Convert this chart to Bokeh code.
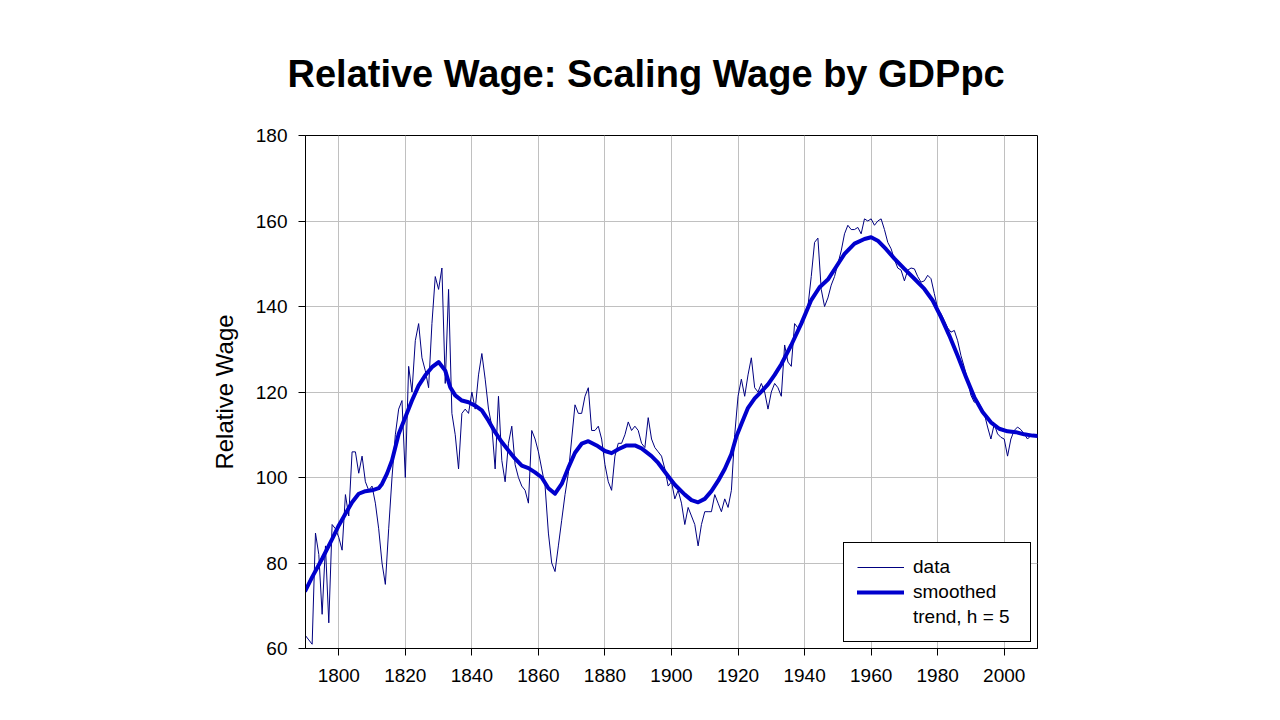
from bokeh.plotting import figure
from bokeh.models import Range1d, SingleIntervalTicker, Legend, LegendItem, Title
from bokeh.embed import file_html
from bokeh.resources import INLINE

# ---- data ----
years = list(range(1790, 2011))
wage = [
    63, 62, 61, 87, 82, 68, 84, 66, 89, 88,            # 1790-1799
    86, 83, 96, 91, 106, 106, 101, 105, 99, 97,       # 1800-1809
    98, 94, 88, 80, 75, 88, 100, 110, 116, 118,       # 1810-1819
    100, 126, 120, 132, 136, 128, 125, 121, 136, 147, # 1820-1829
    144, 149, 122, 144, 115, 110, 102, 115, 116, 115, # 1830-1839
    120, 116, 124, 129, 123, 116, 112, 102, 119, 104, # 1840-1849
    99, 108, 112, 103, 100, 98, 97, 94, 111, 109,     # 1850-1859
    106, 102, 98, 87, 80, 78, 84, 90, 96, 101,        # 1860-1869
    109, 117, 115, 115, 119, 121, 111, 111, 112, 109, # 1870-1879
    103, 99, 97, 105, 108, 108, 110, 113, 111, 112,   # 1880-1889
    111, 108, 107, 114, 109, 107, 106, 105, 102, 98,  # 1890-1899
    99, 95, 97, 94, 89, 93, 91, 89, 84, 89,           # 1900-1909
    92, 92, 92, 96, 94, 92, 95, 93, 97, 110,          # 1910-1919
    119, 123, 119, 124, 128, 121, 120, 122, 120, 116, # 1920-1929
    120, 122, 121, 119, 131, 127, 126, 136, 135, 136, # 1930-1939
    138, 140, 147, 155, 156, 144, 140, 142, 145, 147, # 1940-1949
    150, 153, 157, 159, 158, 158, 158.5, 157, 160.5, 160,  # 1950-1959
    160.5, 159, 160, 160.5, 158, 155, 153.5, 151, 149, 148.5,  # 1960-1969
    146, 148.5, 149, 148.8, 147, 145.7, 146, 147.3, 146.5, 143,  # 1970-1979
    139.5, 138.3, 136.7, 135, 134, 134.4, 132, 128.5, 125.8, 122.7,  # 1980-1989
    119.2, 117.6, 118, 116.5, 115, 111.8, 109, 112.5, 110.2, 109.4,  # 1990-1999
    109, 105, 109, 111, 111.8, 111.2, 110.2, 109, 109.8, 109.8,  # 2000-2009
    109.8,                                             # 2010
]

trend_years = [1790, 1792, 1795, 1798, 1800, 1802, 1804, 1806, 1808, 1810,
               1812, 1813, 1814.5, 1816, 1818, 1820, 1822, 1824, 1826, 1828,
               1830, 1832, 1833.5, 1835, 1837, 1839, 1841, 1843, 1845, 1847,
               1849, 1851, 1853, 1855, 1857, 1859, 1861, 1863, 1865, 1867,
               1869, 1871, 1873, 1875, 1877.5, 1880, 1882, 1884, 1886.5, 1889,
               1891, 1894, 1896, 1899, 1901, 1904, 1906, 1908, 1910, 1912,
               1914, 1916, 1918, 1919.5, 1921, 1923, 1925, 1927, 1929, 1931,
               1933, 1936, 1939, 1942, 1944.5, 1947, 1949.5, 1952, 1955, 1958,
               1960, 1962, 1964.5, 1967, 1970, 1973, 1976, 1978.5, 1981, 1983.5,
               1986, 1988.5, 1991, 1993.5, 1996, 1998.5, 2001, 2003.5, 2006, 2008.5,
               2010]
trend = [73.6, 76.7, 81, 85.6, 88.8, 91.5, 94.2, 96.2, 96.8, 97,
         97.5, 98.5, 100.9, 104, 110.2, 114.1, 118, 121.5, 123.9, 125.8,
         127, 125, 121.1, 119.2, 118, 117.6, 116.8, 115.7, 113.3, 110.6,
         108.3, 106.3, 104.4, 102.8, 102.2, 101.2, 100, 97.5, 96.2, 98.5,
         102.3, 105.8, 107.9, 108.5, 107.5, 106.2, 105.7, 106.6, 107.5, 107.5,
         106.8, 105, 103.4, 100.3, 98.3, 96, 94.7, 94.2, 95, 96.8,
         99.2, 102, 105.5, 109.6, 112.5, 116.3, 118.5, 120.1, 121.8, 124,
         126.5, 131, 136, 141.5, 144.5, 146.3, 149.3, 152.3, 154.7, 155.8,
         156.2, 155.4, 153.4, 151.2, 148.8, 146.5, 144.1, 141.4, 137.5, 133.2,
         128.5, 123.5, 118.8, 115.3, 112.9, 111.4, 110.8, 110.6, 110.1, 109.8,
         109.7]

title_text = "Relative Wage: Scaling Wage by GDPpc"
y_label = "Relative Wage"
legend_labels = ["data", "smoothed", "trend, h = 5"]

FONT = "Liberation Sans"

p = figure(width=1264, height=704,
           x_range=Range1d(1790, 2010), y_range=Range1d(60, 180),
           output_backend="svg", toolbar_location=None,
           min_border_left=305, min_border_right=227,
           min_border_top=135, min_border_bottom=56)

p.add_layout(Title(text=title_text, text_font=FONT, text_font_size="38px",
                   text_font_style="bold", align="left", offset=-18,
                   standoff=81, text_color="black"), "above")

p.background_fill_color = "white"
p.border_fill_color = "white"
p.outline_line_color = "black"
p.outline_line_width = 1
p.outline_line_alpha = 1

for ax in (p.xaxis[0], p.yaxis[0]):
    ax.axis_line_color = "black"
    ax.major_tick_line_color = "black"
    ax.major_tick_out = 7
    ax.major_tick_in = 0
    ax.minor_tick_line_color = None
    ax.major_label_text_font = FONT
    ax.major_label_text_font_size = "19px"
    ax.major_label_text_color = "black"

p.xaxis[0].ticker = SingleIntervalTicker(interval=20, num_minor_ticks=0)
p.yaxis[0].ticker = SingleIntervalTicker(interval=20, num_minor_ticks=0)
p.xaxis[0].major_label_standoff = 13
p.yaxis[0].major_label_standoff = 11
p.yaxis[0].axis_label = y_label
p.yaxis[0].axis_label_text_font = FONT
p.yaxis[0].axis_label_text_font_size = "24px"
p.yaxis[0].axis_label_text_font_style = "normal"
p.yaxis[0].axis_label_text_color = "black"
p.yaxis[0].axis_label_standoff = 15

p.xgrid.grid_line_color = "#c0c0c0"
p.ygrid.grid_line_color = "#c0c0c0"
p.xgrid.ticker = p.xaxis[0].ticker
p.ygrid.ticker = p.yaxis[0].ticker

r_data = p.line(years, wage, line_color="#000080", line_width=1)
r_trend = p.line(trend_years, trend, line_color="#0000CD", line_width=4,
                 line_join="round", line_cap="round")
r_blank = p.line(x=[], y=[], line_alpha=0)

legend = Legend(items=[LegendItem(label=legend_labels[0], renderers=[r_data]),
                       LegendItem(label=legend_labels[1], renderers=[r_trend]),
                       LegendItem(label=legend_labels[2], renderers=[r_blank])],
                location="bottom_right", margin=6, padding=13, spacing=3,
                glyph_width=47, glyph_height=20, label_height=20,
                label_standoff=9, label_width=104,
                label_text_font=FONT, label_text_font_size="19px",
                label_text_color="black",
                border_line_color="black", border_line_width=1,
                border_line_alpha=1, background_fill_color="white",
                background_fill_alpha=1)
p.add_layout(legend)

open("out.html", "w").write(file_html(p, INLINE))
